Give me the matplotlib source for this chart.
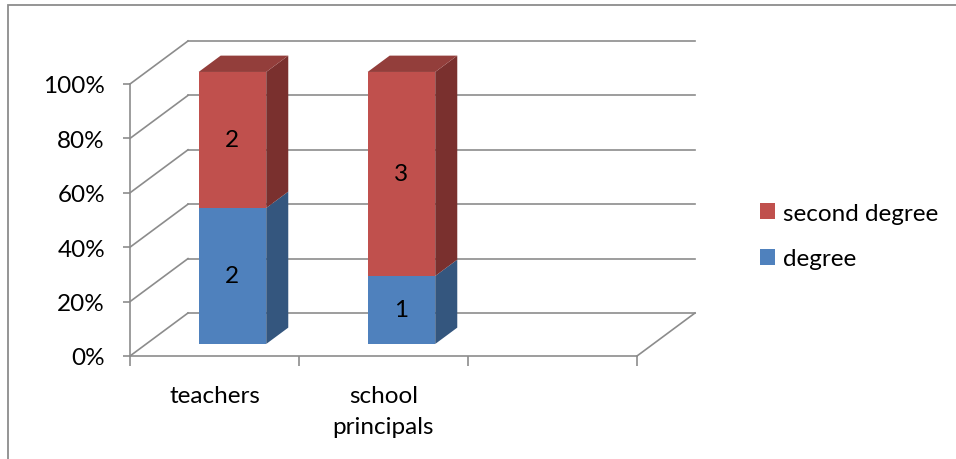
import matplotlib.pyplot as plt
from matplotlib.patches import Polygon, Patch, Rectangle

plt.rcParams['font.family'] = ['Lato', 'DejaVu Sans']

# data
categories = ["teachers", "school\nprincipals"]
degree = [2, 1]
second_degree = [2, 3]
series_names = ["degree", "second degree"]
y_ticks = [0, 0.2, 0.4, 0.6, 0.8, 1.0]
y_tick_labels = ["0%", "20%", "40%", "60%", "80%", "100%"]

front = ["#4F81BD", "#C0504D"]
side = ["#34567E", "#7A302E"]
top = ["#3F6796", "#933E3B"]
grid_c = "#8C8C8C"
fs = 17.5

fig = plt.figure(figsize=(9.56, 4.6), dpi=100)
# chart frame (cropped on the right and bottom like the source)
fig.patches.append(Rectangle((7.5 / 956, -0.05), 1.1, (460 - 6) / 460 + 0.05,
                             transform=fig.transFigure, fill=False,
                             edgecolor="#8C8C8C", lw=1.3))

ax = fig.add_axes([130 / 956, (460 - 357) / 460, 507 / 956, 272 / 460])
ax.set_xlim(0, 3)
ax.set_ylim(0, 1)
ax.patch.set_visible(False)

# depth of the 3d box, in data units
DX = 58 / 169
DY = 43 / 272
f1, f2 = 0.28, 0.66  # bar front/back depth fraction
bw = 0.40
boff = 0.31

# back wall + floor
for v in y_ticks:
    ax.plot([DX, 3 + DX], [v + DY, v + DY], color=grid_c, lw=1.2, clip_on=False, zorder=1)
    ax.plot([0, DX], [v, v + DY], color=grid_c, lw=1.2, clip_on=False, zorder=1)
ax.plot([3, 3 + DX], [0, DY], color=grid_c, lw=1.2, clip_on=False, zorder=1)

# stacked bars as 3d boxes
for i in range(len(categories)):
    total = degree[i] + second_degree[i]
    vals = [degree[i] / total, second_degree[i] / total]
    counts = [degree[i], second_degree[i]]
    x0 = i + boff + f1 * DX
    base = 0
    for s in range(2):
        y0 = base + f1 * DY
        y1 = base + vals[s] + f1 * DY
        ddx = (f2 - f1) * DX
        ddy = (f2 - f1) * DY
        ax.add_patch(Polygon([[x0, y0], [x0 + bw, y0], [x0 + bw, y1], [x0, y1]],
                             closed=True, facecolor=front[s], edgecolor="none",
                             clip_on=False, zorder=3))
        ax.add_patch(Polygon([[x0 + bw, y0], [x0 + bw + ddx, y0 + ddy],
                              [x0 + bw + ddx, y1 + ddy], [x0 + bw, y1]],
                             closed=True, facecolor=side[s], edgecolor="none",
                             clip_on=False, zorder=3))
        if s == 1:
            ax.add_patch(Polygon([[x0, y1], [x0 + bw, y1], [x0 + bw + ddx, y1 + ddy],
                                  [x0 + ddx, y1 + ddy]],
                                 closed=True, facecolor=top[s], edgecolor="none",
                                 clip_on=False, zorder=3))
        ax.text(x0 + bw / 2, (y0 + y1) / 2, str(counts[s]), ha="center", va="center",
                fontsize=fs, color="black", zorder=4)
        base += vals[s]

# axes look
for sp in ["top", "right"]:
    ax.spines[sp].set_visible(False)
for sp in ["left", "bottom"]:
    ax.spines[sp].set_color(grid_c)
    ax.spines[sp].set_linewidth(1.2)
    ax.spines[sp].set_zorder(2)
ax.set_yticks(y_ticks)
ax.set_yticklabels(y_tick_labels)
ax.tick_params(axis="y", length=5, color=grid_c, width=1.2, labelsize=fs, pad=13)
ax.set_xticks([0.5, 1.5])
ax.set_xticklabels(categories, linespacing=1.6)
ax.set_xticks([0, 1, 2, 3], minor=True)
ax.tick_params(axis="x", which="major", length=0, labelsize=fs, pad=21)
ax.tick_params(axis="x", which="minor", length=7, color=grid_c, width=1.2)

handles = [Patch(facecolor=front[1], label=series_names[1]),
           Patch(facecolor=front[0], label=series_names[0])]
fig.legend(handles=handles, loc="upper left", bbox_to_anchor=(738 / 956, 1 - 182 / 460),
           frameon=False, fontsize=fs, handlelength=0.62, handleheight=0.62,
           handletextpad=0.35, labelspacing=1.0)

fig.savefig("out.png", dpi=100)
